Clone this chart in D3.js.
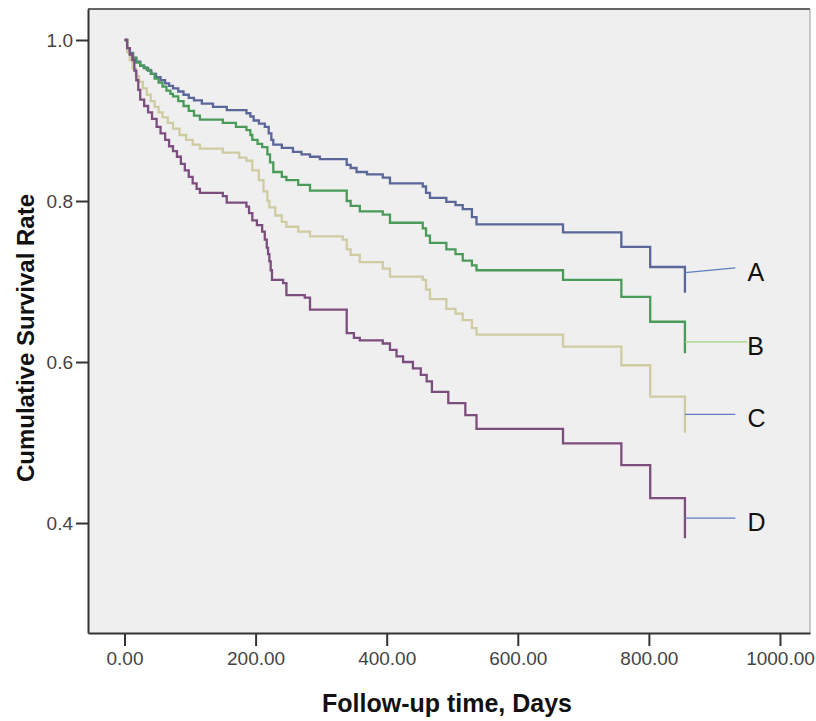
<!DOCTYPE html>
<html>
<head>
<meta charset="utf-8">
<script src="https://cdn.jsdelivr.net/npm/d3@7"></script>
<style>
  body { margin: 0; background: #fff; }
  svg text { font-family: "Liberation Sans", Arial, sans-serif; }
</style>
</head>
<body>
<div id="chart"></div>
<script>
// Kaplan-Meier steps, [day, cumulative survival]
const groupA = [[0,1],[4,0.99],[8,0.984],[13,0.978],[18,0.973],[24,0.968],[30,0.965],[36,0.962],[41,0.958],[48,0.954],[55,0.95],[62,0.946],[68,0.943],[74,0.94],[82,0.936],[90,0.932],[98,0.928],[106,0.925],[118,0.921],[135,0.917],[156,0.913],[186,0.909],[192,0.905],[197,0.9],[205,0.896],[214,0.892],[220,0.884],[224,0.876],[227,0.87],[240,0.866],[257,0.861],[270,0.858],[283,0.855],[298,0.852],[339,0.845],[345,0.841],[354,0.836],[370,0.833],[394,0.829],[405,0.822],[455,0.818],[460,0.81],[466,0.804],[491,0.799],[505,0.795],[516,0.79],[530,0.78],[537,0.771],[669,0.761],[758,0.743],[802,0.718],[855,0.686]];
const groupB = [[0,1],[4,0.99],[8,0.983],[13,0.977],[18,0.972],[24,0.968],[29,0.966],[34,0.963],[40,0.958],[46,0.952],[52,0.947],[58,0.942],[64,0.937],[70,0.933],[74,0.93],[82,0.924],[90,0.918],[98,0.912],[106,0.906],[115,0.901],[150,0.897],[170,0.892],[186,0.888],[192,0.882],[195,0.876],[203,0.871],[210,0.867],[218,0.858],[222,0.848],[227,0.836],[240,0.83],[247,0.826],[265,0.82],[283,0.813],[339,0.8],[345,0.794],[359,0.787],[394,0.783],[405,0.773],[455,0.766],[460,0.757],[466,0.748],[491,0.74],[505,0.734],[516,0.726],[530,0.72],[537,0.714],[669,0.702],[758,0.681],[802,0.65],[855,0.611]];
const groupC = [[0,1],[4,0.985],[8,0.975],[12,0.965],[17,0.955],[22,0.948],[28,0.94],[34,0.932],[40,0.924],[46,0.917],[52,0.91],[58,0.904],[66,0.897],[74,0.89],[84,0.882],[94,0.876],[104,0.87],[115,0.865],[150,0.86],[175,0.854],[186,0.85],[195,0.838],[205,0.826],[212,0.812],[218,0.8],[221,0.792],[230,0.782],[240,0.774],[247,0.768],[265,0.762],[283,0.756],[333,0.752],[339,0.74],[345,0.733],[359,0.724],[394,0.716],[405,0.706],[455,0.702],[460,0.69],[466,0.678],[491,0.666],[505,0.66],[516,0.652],[530,0.642],[537,0.634],[669,0.619],[758,0.596],[802,0.557],[855,0.512]];
const groupD = [[0,1],[4,0.99],[8,0.982],[12,0.975],[15,0.962],[18,0.95],[21,0.938],[24,0.926],[30,0.918],[36,0.91],[42,0.902],[49,0.892],[55,0.884],[62,0.876],[68,0.868],[74,0.862],[80,0.855],[86,0.846],[92,0.838],[98,0.83],[104,0.822],[110,0.815],[115,0.81],[150,0.806],[156,0.798],[186,0.793],[190,0.785],[195,0.776],[202,0.77],[210,0.762],[214,0.752],[217,0.742],[219,0.734],[221,0.725],[223,0.714],[225,0.702],[242,0.698],[247,0.683],[275,0.68],[283,0.665],[339,0.636],[350,0.63],[359,0.627],[394,0.623],[405,0.615],[415,0.607],[425,0.6],[440,0.592],[452,0.584],[461,0.576],[469,0.563],[494,0.549],[520,0.534],[537,0.517],[669,0.499],[758,0.472],[802,0.431],[855,0.381]];

const groupNames = ["A", "B", "C", "D"];
const xTicks = [0, 200, 400, 600, 800, 1000];
const yTicks = [0.4, 0.6, 0.8, 1.0];
// label leader lines: start value at curve end, end day/value
const leadStart = [0.711, 0.625, 0.535, 0.406];
const leadEnd = [[932, 0.717], [950, 0.625], [932, 0.535], [932, 0.406]];

const curves = [groupA, groupB, groupC, groupD];
const curveColors = ["#5b6699", "#4a9b5a", "#d0cca2", "#7c4e7e"];
const leadColors = ["#5b7fc0", "#9fd37a", "#5b7fc0", "#5b7fc0"];

const W = 816, H = 721;
const plot = { left: 88, right: 810, top: 9, bottom: 633 };

const svg = d3.select("#chart").append("svg")
    .attr("width", W)
    .attr("height", H);

const x = d3.scaleLinear()
    .domain([-55.7, 1045.8])
    .range([plot.left, plot.right]);
const y = d3.scaleLinear()
    .domain([0.2634, 1.0385])
    .range([plot.bottom, plot.top]);

// plot background
svg.append("rect")
    .attr("x", plot.left)
    .attr("y", plot.top)
    .attr("width", plot.right - plot.left)
    .attr("height", plot.bottom - plot.top)
    .attr("fill", "#efefef");

// frame: top dark, right lighter, left/bottom are axes
svg.append("line")
    .attr("x1", plot.left).attr("x2", plot.right)
    .attr("y1", plot.top).attr("y2", plot.top)
    .attr("stroke", "#333").attr("stroke-width", 1.5);
svg.append("line")
    .attr("x1", plot.right).attr("x2", plot.right)
    .attr("y1", plot.top).attr("y2", plot.bottom)
    .attr("stroke", "#999").attr("stroke-width", 1);

const line = d3.line()
    .x(d => x(d[0]))
    .y(d => y(d[1]))
    .curve(d3.curveStepAfter);

svg.selectAll(".km")
    .data(curves)
    .enter()
    .append("path")
    .attr("class", "km")
    .attr("d", d => line(d))
    .attr("fill", "none")
    .attr("stroke", (d, i) => curveColors[i])
    .attr("stroke-width", 2.3);

// axes
const xAxis = svg.append("g")
    .attr("transform", "translate(0," + plot.bottom + ")")
    .call(d3.axisBottom(x).tickValues(xTicks).tickFormat(d3.format(".2f"))
        .tickSize(13).tickSizeOuter(0).tickPadding(6));
const yAxis = svg.append("g")
    .attr("transform", "translate(" + plot.left + ",0)")
    .call(d3.axisLeft(y).tickValues(yTicks).tickFormat(d3.format(".1f"))
        .tickSize(12).tickSizeOuter(0).tickPadding(3));

[xAxis, yAxis].forEach(g => {
    g.select(".domain").attr("stroke", "#333").attr("stroke-width", 2);
    g.selectAll(".tick line").attr("stroke", "#333").attr("stroke-width", 2);
    g.selectAll(".tick text")
        .attr("fill", "#444")
        .style("font-size", "19px")
        .style("font-family", "'Liberation Sans', Arial, sans-serif");
});

// leader lines and labels
curves.forEach((c, i) => {
    const last = c[c.length - 1];
    svg.append("line")
        .attr("x1", x(last[0])).attr("y1", y(leadStart[i]))
        .attr("x2", x(leadEnd[i][0])).attr("y2", y(leadEnd[i][1]))
        .attr("stroke", leadColors[i])
        .attr("stroke-width", 1.2);
    svg.append("text")
        .attr("x", x(leadEnd[i][0]) + (i === 1 ? 0 : 12))
        .attr("y", y(leadEnd[i][1]) + 4)
        .attr("dominant-baseline", "central")
        .style("font-size", "25px")
        .attr("fill", "#111")
        .text(groupNames[i]);
});

// axis titles
svg.append("text")
    .attr("x", 447)
    .attr("y", 712)
    .attr("text-anchor", "middle")
    .style("font-size", "25px")
    .style("font-weight", "bold")
    .attr("fill", "#111")
    .text("Follow-up time, Days");

svg.append("text")
    .attr("transform", "translate(34,338) rotate(-90)")
    .attr("text-anchor", "middle")
    .style("font-size", "24px")
    .style("font-weight", "bold")
    .attr("fill", "#111")
    .text("Cumulative Survival Rate");
</script>
</body>
</html>
